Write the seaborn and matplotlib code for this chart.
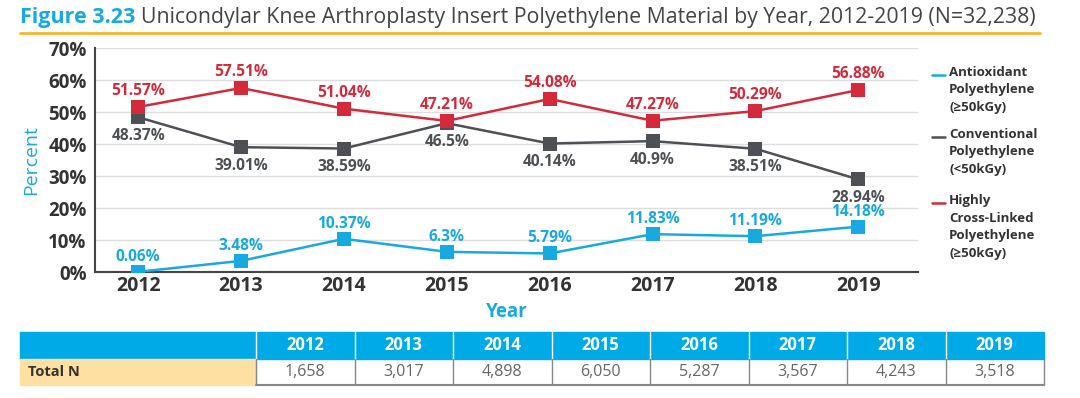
import matplotlib.pyplot as plt
import matplotlib.patches as mpatches
import pandas as pd
import seaborn as sns

years = [2012, 2013, 2014, 2015, 2016, 2017, 2018, 2019]
antioxidant = [0.06, 3.48, 10.37, 6.3, 5.79, 11.83, 11.19, 14.18]
conventional = [48.37, 39.01, 38.59, 46.5, 40.14, 40.9, 38.51, 28.94]
highly_xl = [51.57, 57.51, 51.04, 47.21, 54.08, 47.27, 50.29, 56.88]
total_n = ["1,658", "3,017", "4,898", "6,050", "5,287", "3,567", "4,243", "3,518"]

series_names = [
    "Antioxidant\nPolyethylene\n(≥50kGy)",
    "Conventional\nPolyethylene\n(<50kGy)",
    "Highly\nCross-Linked\nPolyethylene\n(≥50kGy)",
]
BLUE = "#19a9e1"
GRAY = "#4d5054"
RED = "#d42a3c"
DARK = "#333333"

sns.set_style("white")
plt.rcParams["font.family"] = ["Open Sans", "DejaVu Sans"]

df = pd.DataFrame({
    "year": years * 3,
    "pct": antioxidant + conventional + highly_xl,
    "series": [series_names[0]] * 8 + [series_names[1]] * 8 + [series_names[2]] * 8,
})

fig = plt.figure(figsize=(10.8, 3.98), dpi=100)
W, H = 1080, 398
ax = fig.add_axes([95 / W, 1 - 272 / H, (918 - 95) / W, (272 - 48) / H])

palette = {series_names[0]: BLUE, series_names[1]: GRAY, series_names[2]: RED}
sns.lineplot(data=df, x="year", y="pct", hue="series", palette=palette,
             marker="s", markersize=10, markeredgewidth=0, linewidth=1.8,
             ax=ax, legend=False, zorder=3)

# value labels: red/blue above the marker, gray below it
for vals, color, dy, va in [(highly_xl, RED, 8.5, "baseline"),
                            (antioxidant, BLUE, 8, "baseline"),
                            (conventional, GRAY, -7.5, "top")]:
    for x, v in zip(years, vals):
        ax.annotate(f"{v:g}%", (x, v), xytext=(0, dy), textcoords="offset points",
                    ha="center", va=va, color=color, fontsize=11.2, fontweight="bold")

ax.set_xlim(2012 - 0.42, 2019 + 0.58)
ax.set_ylim(0, 70)
ax.set_yticks(range(0, 71, 10))
ax.set_yticklabels([f"{t}%" for t in range(0, 71, 10)])
ax.set_xticks(years)
ax.tick_params(axis="y", length=0, labelsize=13.5, labelcolor=DARK, pad=6)
ax.tick_params(axis="x", length=0, labelsize=14, labelcolor=DARK, pad=3)
for lab in ax.get_xticklabels() + ax.get_yticklabels():
    lab.set_fontweight("bold")
ax.yaxis.grid(True, color="#dddddd", linewidth=1)
ax.set_axisbelow(True)
for side in ["top", "right"]:
    ax.spines[side].set_visible(False)
for side in ["left", "bottom"]:
    ax.spines[side].set_color("#444444")
    ax.spines[side].set_linewidth(1.5)
ax.set_xlabel("Year", color=BLUE, fontsize=13.5, fontweight="bold", labelpad=4)
ax.set_ylabel("Percent", color=BLUE, fontsize=14, labelpad=6)

# legend
leg_y = [75, 137, 203]
for name, color, y in zip(series_names, [BLUE, GRAY, RED], leg_y):
    fig.add_artist(plt.Line2D([932 / W, 945 / W], [1 - y / H] * 2, color=color, lw=1.8))
    fig.text(949 / W, 1 - (y - 9) / H, name, color=DARK, fontsize=9.5, fontweight="bold",
             va="top", ha="left", linespacing=1.45)

# title
t1 = fig.text(20 / W, 1 - 17 / H, "Figure 3.23", color=BLUE, fontsize=15.5, fontweight="bold",
              va="center", ha="left")
fig.canvas.draw()
bb = t1.get_window_extent()
fig.text(bb.x1 / W + 6 / W, 1 - 17 / H,
         "Unicondylar Knee Arthroplasty Insert Polyethylene Material by Year, 2012-2019 (N=32,238)",
         color="#444444", fontsize=15.3, va="center", ha="left")
fig.add_artist(plt.Line2D([20 / W, 1040 / W], [1 - 33 / H] * 2, color="#f7b731", lw=2))

# table
tax = fig.add_axes([0, 0, 1, 1])
tax.set_xlim(0, W)
tax.set_ylim(H, 0)
tax.axis("off")
label_x0, label_x1 = 20, 256
col_w = (1044 - label_x1) / len(years)
top, mid, bot = 332, 359, 385
tax.add_patch(mpatches.Rectangle((label_x0, top), 1044 - label_x0, mid - top, color="#00aae6"))
tax.add_patch(mpatches.Rectangle((label_x0, mid), label_x1 - label_x0, bot - mid, color="#fde0a2"))
tax.text(label_x0 + 8, (mid + bot) / 2, "Total N", fontsize=10.5, fontweight="bold",
         color=DARK, va="center", ha="left")
for i, (yr, n) in enumerate(zip(years, total_n)):
    x0 = label_x1 + i * col_w
    tax.plot([x0, x0], [top, mid], color="white", lw=1)
    tax.plot([x0, x0], [mid, bot], color="#888888", lw=1)
    tax.text(x0 + col_w / 2, (top + mid) / 2, str(yr), fontsize=12, fontweight="bold",
             color="white", va="center", ha="center")
    tax.text(x0 + col_w / 2, (mid + bot) / 2, n, fontsize=11.5, color="#666666",
             va="center", ha="center")
tax.plot([1044, 1044], [mid, bot], color="#888888", lw=1)
tax.plot([label_x1, 1044], [bot, bot], color="#888888", lw=1.5)

fig.savefig("out.png", dpi=100)
